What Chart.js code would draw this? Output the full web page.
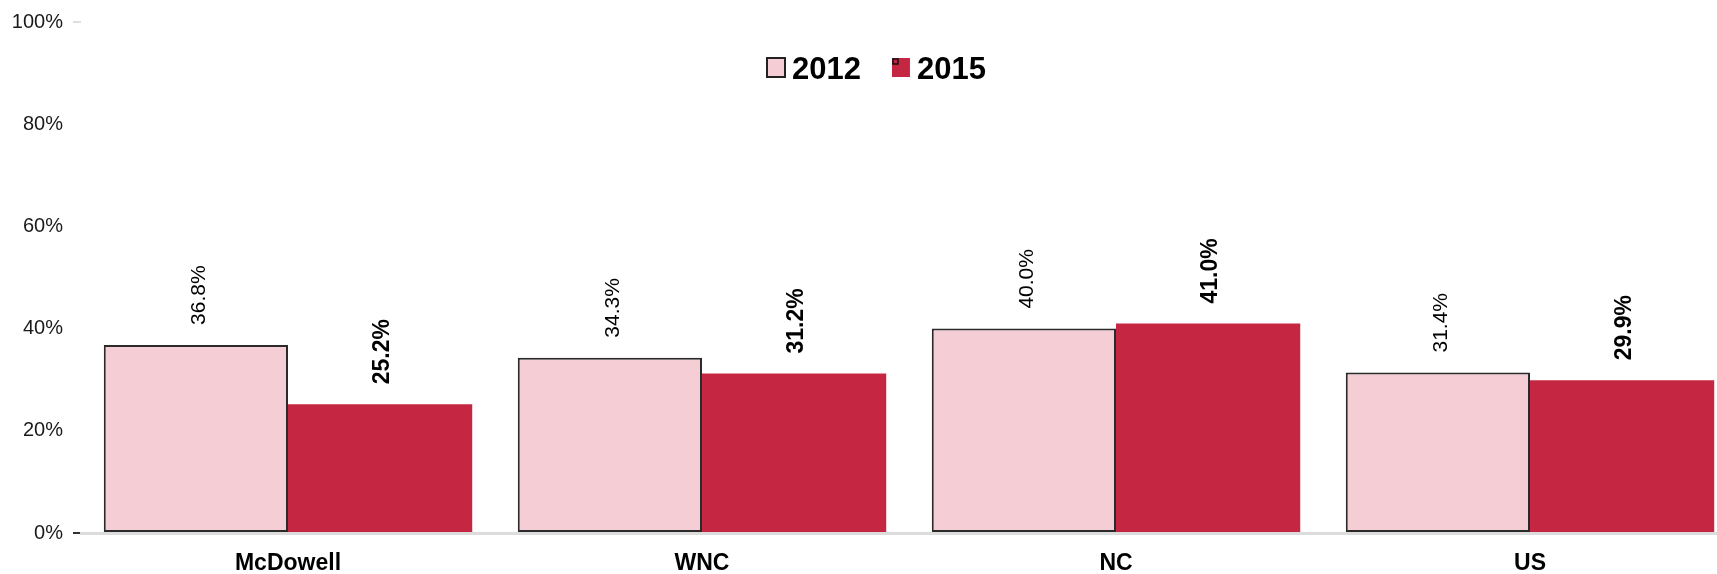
<!DOCTYPE html>
<html>
<head>
<meta charset="utf-8">
<script src="https://cdn.jsdelivr.net/npm/chart.js@4/dist/chart.umd.min.js"></script>
<style>
  html, body { margin: 0; padding: 0; background: #fff; overflow: hidden; }
  #wrap { width: 1740px; height: 574px; position: relative; }
</style>
</head>
<body>
<div id="wrap"><canvas id="chart" width="1740" height="574"></canvas></div>
<script>
const categories = ['McDowell', 'WNC', 'NC', 'US'];
const values2012 = [36.8, 34.3, 40.0, 31.4];
const values2015 = [25.2, 31.2, 41.0, 29.9];
const yTicks = [0, 20, 40, 60, 80, 100];

const PINK = '#f4cdd5';
const RED = '#c52742';
const FONT = "'Liberation Sans', Arial, sans-serif";

// rotated value labels above each bar, plus the centred legend
const barLabels = {
    id: 'barLabels',
    afterDatasetsDraw(chart) {
        const ctx = chart.ctx;
        chart.data.datasets.forEach((ds, i) => {
            const meta = chart.getDatasetMeta(i);
            meta.data.forEach((bar, j) => {
                ctx.save();
                ctx.translate(bar.x + 3, bar.y - 20);
                ctx.rotate(-Math.PI / 2);
                ctx.fillStyle = '#000';
                ctx.font = (i === 1 ? 'bold 23px ' : '21px ') + FONT;
                ctx.textAlign = 'left';
                ctx.textBaseline = 'middle';
                ctx.fillText(ds.data[j].toFixed(1) + '%', 0, 0);
                ctx.restore();
            });
        });

        // legend
        ctx.save();
        ctx.font = 'bold 31px ' + FONT;
        ctx.textBaseline = 'middle';
        const y = 67;
        let x = 767;
        chart.data.datasets.forEach((ds, i) => {
            ctx.fillStyle = ds.backgroundColor;
            ctx.fillRect(x, y - 9, 18, 19);
            if (i === 0) {
                ctx.strokeStyle = '#222';
                ctx.lineWidth = 2;
                ctx.strokeRect(x, y - 9, 18, 19);
            } else {
                ctx.strokeStyle = '#111';
                ctx.lineWidth = 1.5;
                ctx.strokeRect(x + 1, y - 8, 5, 5);
            }
            ctx.fillStyle = '#000';
            ctx.fillText(ds.label, x + 25, y + 3);
            x += 25 + ctx.measureText(ds.label).width + 31;
        });
        ctx.restore();
    }
};

new Chart(document.getElementById('chart'), {
    type: 'bar',
    data: {
        labels: categories,
        datasets: [
            {
                label: '2012',
                data: values2012,
                backgroundColor: PINK,
                borderColor: '#2a2a2a',
                borderWidth: 2,
                borderSkipped: false
            },
            {
                label: '2015',
                data: values2015,
                backgroundColor: RED,
                borderWidth: 0
            }
        ]
    },
    options: {
        responsive: false,
        animation: false,
        devicePixelRatio: 1,
        datasets: {
            bar: { categoryPercentage: 0.89, barPercentage: 1 }
        },
        layout: { padding: { top: 20, right: 3, left: 0, bottom: 0 } },
        plugins: {
            legend: { display: false },
            tooltip: { enabled: false }
        },
        scales: {
            x: {
                grid: { display: false },
                border: { display: true, color: '#dcdcdc', width: 3 },
                ticks: {
                    color: '#000',
                    padding: 9,
                    maxRotation: 0,
                    autoSkip: false,
                    font: { family: FONT, size: 23, weight: 'bold' }
                },
                afterFit(scale) { scale.height = 41; }
            },
            y: {
                min: 0,
                max: 100,
                afterBuildTicks(scale) {
                    scale.ticks = yTicks.map(v => ({ value: v }));
                },
                grid: {
                    drawOnChartArea: false,
                    tickLength: 8,
                    lineWidth: 2,
                    color: c => c.tick && c.tick.value === 0 ? '#333' :
                        (c.tick && c.tick.value === 100 ? '#e0e0e0' : 'rgba(0,0,0,0)')
                },
                border: { display: false },
                ticks: {
                    color: '#1a1a1a',
                    padding: 10,
                    font: { family: FONT, size: 20 },
                    callback: v => v + '%'
                },
                afterFit(scale) { scale.width = 81; }
            }
        }
    },
    plugins: [barLabels]
});
</script>
</body>
</html>
